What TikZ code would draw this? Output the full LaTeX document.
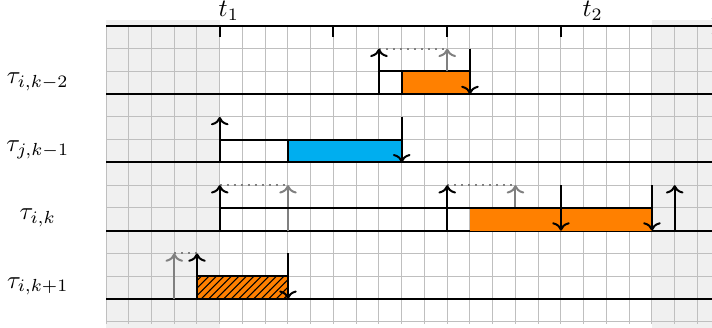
\documentclass[tikz,border=0pt]{standalone}
\usepackage{tikz}
\usetikzlibrary{arrows.meta,patterns}
\definecolor{jobblue}{RGB}{0,174,239}
\definecolor{joborange}{RGB}{255,128,0}
\tikzset{
  gridline/.style={gray!50, line width=0.4pt},
  outside/.style={fill=black!6},
  axisline/.style={thick},
  rel/.style={->, thick},
  relghost/.style={->, thick, gray},
  ghostlink/.style={thick, gray, dotted},
  dl/.style={->, thick},
  execbox/.style={draw, thick},
}

\begin{document}
\begin{tikzpicture}[x=0.32cm, y=0.32cm]
  \useasboundingbox (-4.66,1.14) rectangle (26.64,-13.27);
  \clip (-4.66,1.14) rectangle (26.64,-13.27);

  % Shaded parts outside the window
  \fill[outside] (0,0.25) rectangle (5,-13.3);
  \fill[outside] (24,0.25) rectangle (27,-13.3);
  \draw[gridline] (0,0) grid[step=1] (27,-13.1);

  % Time axis
  \draw[axisline, ->] (0,0) -- (27,0);
  \foreach \x in {5,10,15,20}
    \draw[axisline] (\x,0) -- (\x,-0.5);
  \node[above, inner sep=2pt] (t1) at (5.4,0) {$t_1$};
  \node[above, inner sep=2pt] (t2) at (21.4,0) {$t_2$};

  % Row baselines and labels
  \foreach \y in {3,6,9,12}
    \draw[axisline] (0,-\y) -- (27,-\y);
  \node (lbl1) at (-3,-2.45) {$\tau_{i,k-2}$};
  \node (lbl2) at (-3,-5.45) {$\tau_{j,k-1}$};
  \node (lbl3) at (-3,-8.45) {$\tau_{i,k}$};
  \node (lbl4) at (-3,-11.45) {$\tau_{i,k+1}$};

  % tau_{i,k-2}
  \draw[execbox] (12,-3) rectangle (13,-2);
  \draw[execbox, fill=joborange] (13,-3) rectangle (16,-2);
  \draw[ghostlink] (12,-1) -- (15,-1);
  \draw[relghost] (15,-2) -- (15,-1);
  \draw[rel] (12,-3) -- (12,-1);
  \draw[dl] (16,-1) -- (16,-3);

  % tau_{j,k-1}
  \draw[execbox] (5,-6) rectangle (8,-5);
  \draw[execbox, fill=jobblue] (8,-6) rectangle (13,-5);
  \draw[rel] (5,-6) -- (5,-4);
  \draw[dl] (13,-4) -- (13,-6);

  % tau_{i,k}
  \fill[joborange] (16,-9) rectangle (24,-8);
  \draw[ghostlink] (5,-7) -- (8,-7);
  \draw[relghost] (8,-9) -- (8,-7);
  \draw[ghostlink] (15,-7) -- (18,-7);
  \draw[relghost] (18,-8) -- (18,-7);
  \draw[thick] (5,-8) -- (24,-8);
  \draw[rel] (5,-9) -- (5,-7);
  \draw[rel] (15,-9) -- (15,-7);
  \draw[dl] (20,-7) -- (20,-9);
  \draw[dl] (24,-7) -- (24,-9);
  \draw[rel] (25,-9) -- (25,-7);

  % tau_{i,k+1}
  \draw[execbox, preaction={fill=joborange}, pattern=north east lines]
    (4,-12) rectangle (8,-11);
  \draw[ghostlink] (3,-10) -- (4,-10);
  \draw[relghost] (3,-12) -- (3,-10);
  \draw[rel] (4,-12) -- (4,-10);
  \draw[dl] (8,-10) -- (8,-12);
\end{tikzpicture}
\end{document}
